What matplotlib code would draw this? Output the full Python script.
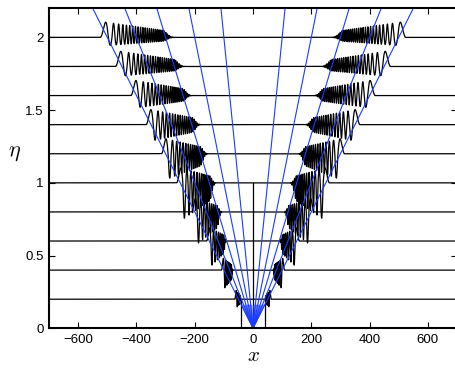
import numpy as np
import matplotlib
matplotlib.use("Agg")
import matplotlib.pyplot as plt

plt.rcParams['font.family'] = ['Liberation Sans', 'DejaVu Sans']
plt.rcParams['mathtext.fontset'] = 'cm'

# time levels (one trace per level)
eta_rows = [0.2, 0.4, 0.6, 0.8, 1.0, 1.2, 1.4, 1.6, 1.8, 2.0]
# |x| where the leading bump starts and where the packet closes
front_x = [62, 108, 159, 210, 262, 314, 367, 419, 472, 524]
back_x = [45, 75, 102, 124, 150, 182, 210, 244, 273, 312]
# number of oscillations in each packet
n_waves = [3, 5, 6, 8, 10, 12, 14, 16, 18, 20]
# crest height and trough depth of each packet
crest = [0.07, 0.09, 0.1, 0.1, 0.11, 0.11, 0.11, 0.11, 0.11, 0.11]
trough = [0.07, 0.15, 0.2, 0.25, 0.28, 0.19, 0.12, 0.09, 0.07, 0.06]

# characteristic speeds x/eta
ray_speeds = [-250, -200, -150, -100, -50, 50, 100, 150, 200, 250]
fan_speeds = np.linspace(-250, 250, 21)

xticks = [-600, -400, -200, 0, 200, 400, 600]
yticks = [0, 0.5, 1, 1.5, 2]

x = np.linspace(-700, 700, 28001)


def packet(xa, f, b, n, up, dn):
    t = (f - xa) / (f - b)
    t = np.where(t < 0, 0, t)
    phase = 2 * np.pi * n * t ** 1.8
    env = np.where(t <= 1, 1 - 0.55 * t, 0.45 * np.exp(-((t - 1) / 0.1) ** 2))
    s = np.sin(phase)
    return np.where(s > 0, up * env * s, dn * env * s)


fig = plt.figure(figsize=(4.56, 3.69), dpi=100)
ax = fig.add_axes([0.1075, 0.1103, 0.8947, 0.8672])

for i, eta in enumerate(eta_rows):
    u = packet(np.abs(x), front_x[i], back_x[i], n_waves[i], crest[i], trough[i])
    ax.plot(x, eta + u, color='k', lw=0.9)

ax.plot([0, 0], [0, 1.0], color='k', lw=0.9)
ax.plot([-41, -41], [0, 0.2], color='k', lw=0.9)
ax.plot([41, 41], [0, 0.2], color='k', lw=0.9)

blue = '#1a3cff'
for c in ray_speeds:
    ax.plot([0, c * 2.4], [0, 2.4], color=blue, lw=0.8)
for c in fan_speeds:
    ax.plot([0, c * 0.16], [0, 0.16], color=blue, lw=0.5)

ax.set_xlim(-700, 700)
ax.set_ylim(0, 2.2)
ax.set_xticks(xticks)
ax.set_yticks(yticks)
ax.set_yticklabels(['0', '0.5', '1', '1.5', '2'])
ax.set_xticklabels(['\u2212600', '\u2212400', '\u2212200', '0', '200', '400', '600'])
ax.tick_params(direction='in', length=4, width=0.8, labelsize=9.5,
               top=True, right=True, pad=4)
for sp in ax.spines.values():
    sp.set_linewidth(1.5)

ax.set_xlabel('$x$', fontsize=15, labelpad=0)
ax.set_ylabel('$\\eta$', fontsize=16, rotation=0, va='center', ha='center')
ax.yaxis.set_label_coords(-0.085, 0.55)

fig.savefig('out.png', dpi=100)
